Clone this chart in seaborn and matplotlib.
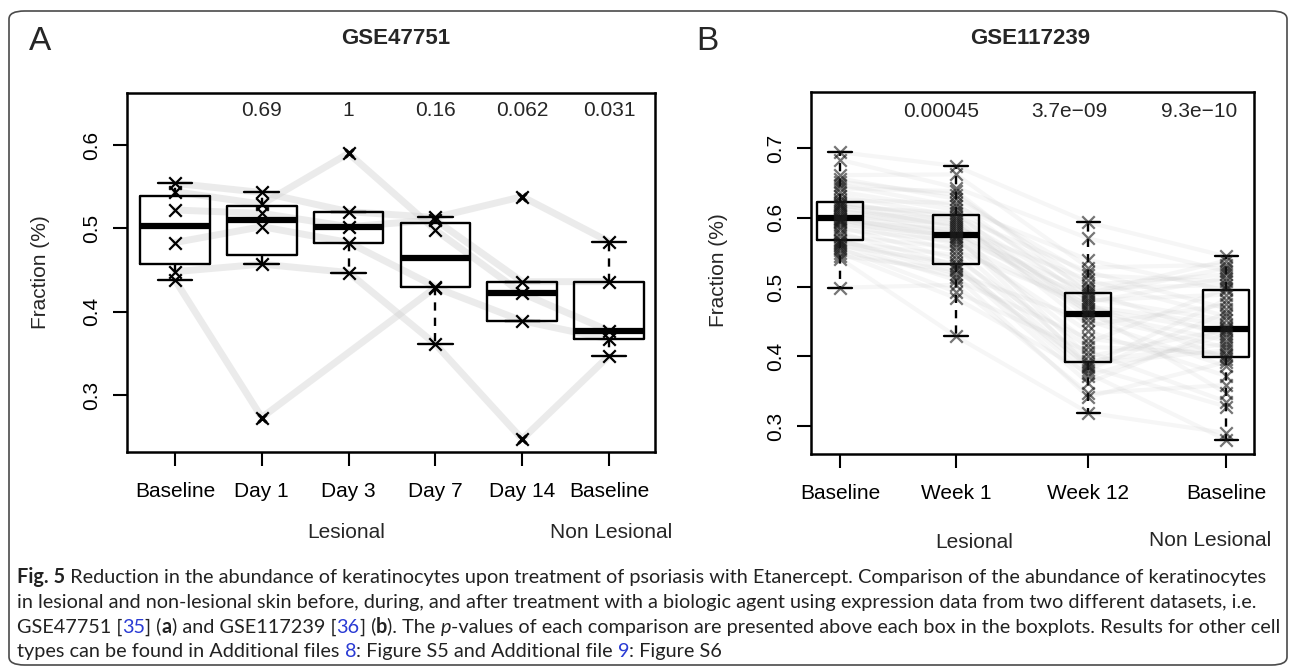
import numpy as np
import pandas as pd
import matplotlib
matplotlib.use("Agg")
from matplotlib import pyplot as plt
from matplotlib.patches import FancyBboxPatch
import seaborn as sns

sns.set_style("ticks")
plt.rcParams['font.family'] = ['Liberation Sans', 'DejaVu Sans']

W, H = 1295, 672

# ---- panel A: GSE47751, one entry per subject (nan = no sample)
groups_a = ['Baseline', 'Day 1', 'Day 3', 'Day 7', 'Day 14', 'Baseline']
tissue_a = ['Lesional'] * 5 + ['Non Lesional']
a_baseline = [0.438, 0.448, 0.544, 0.554, 0.522, 0.483]
a_day1 = [0.273, 0.457, 0.529, 0.543, 0.518, 0.502]
a_day3 = [np.nan, 0.447, 0.590, 0.520, 0.502, 0.483]
a_day7 = [0.429, 0.361, 0.498, 0.513, 0.510, 0.430]
a_day14 = [0.389, 0.247, 0.422, 0.538, 0.436, np.nan]
a_nonles = [0.367, 0.347, 0.377, 0.484, 0.436, np.nan]
pvals_a = ['', '0.69', '1', '0.16', '0.062', '0.031']

# ---- panel B: GSE117239, one entry per subject
groups_b = ['Baseline', 'Week 1', 'Week 12', 'Baseline']
b_base = [0.499, 0.541, 0.545, 0.549, 0.553, 0.556, 0.559, 0.562, 0.564, 0.566,
          0.568, 0.573, 0.578, 0.583, 0.587, 0.590, 0.593, 0.595, 0.597, 0.598,
          0.600, 0.602, 0.605, 0.608, 0.611, 0.614, 0.616, 0.618, 0.620, 0.622,
          0.625, 0.631, 0.637, 0.642, 0.647, 0.651, 0.656, 0.661, 0.683, 0.694]
b_week1 = [0.503, 0.429, 0.524, 0.484, 0.515, 0.493, 0.534, 0.510, 0.546, 0.528,
           0.519, 0.557, 0.531, 0.566, 0.540, 0.574, 0.552, 0.582, 0.562, 0.572,
           0.569, 0.591, 0.576, 0.597, 0.579, 0.588, 0.606, 0.585, 0.600, 0.594,
           0.621, 0.602, 0.611, 0.638, 0.616, 0.633, 0.627, 0.662, 0.643, 0.674]
b_week12 = [0.347, 0.319, 0.389, 0.376, 0.342, 0.407, 0.372, 0.426, 0.385, 0.362,
            0.452, 0.393, 0.381, 0.466, 0.414, 0.387, 0.475, 0.400, 0.436, 0.484,
            0.420, 0.458, 0.494, 0.445, 0.469, 0.478, 0.463, 0.510, 0.488, 0.472,
            0.481, 0.522, 0.498, 0.491, 0.539, 0.503, 0.517, 0.528, 0.570, 0.593]
b_nonles = [0.359, 0.290, 0.409, 0.280, 0.392, 0.335, 0.432, 0.400, 0.328, 0.441,
            0.386, 0.418, 0.463, 0.347, 0.404, 0.482, 0.397, 0.439, 0.372, 0.452,
            0.498, 0.413, 0.428, 0.475, 0.436, 0.513, 0.423, 0.458, 0.527, 0.446,
            0.489, 0.469, 0.503, 0.538, 0.495, 0.518, 0.508, 0.532, 0.523, 0.544]
pvals_b = ['0.00045', '3.7e\u221209', '9.3e\u221210']

# layout (x positions of the boxes in panel B are uneven in the original)
pos_b = [0.0, 1.0, 2.14, 3.33]
pval_x_b = [0.87, 1.98, 3.10]

fig = plt.figure(figsize=(W / 100, H / 100), dpi=100)


def px_axes(l, t, r, b):
    return fig.add_axes([l / W, 1 - b / H, (r - l) / W, (b - t) / H])


def fig_text(x, y, s, **kw):
    return fig.text(x / W, 1 - y / H, s, **kw)


box_kw = dict(fill=False, color='black', linewidth=1.7,
              whiskerprops={'linestyle': (0, (3.5, 3))},
              medianprops={'linewidth': 4.5},
              flierprops={'marker': 'x', 'markersize': 6, 'markeredgewidth': 2.2,
                          'markeredgecolor': 'black'})


def style_axes(ax):
    for s in ax.spines.values():
        s.set_visible(True)
        s.set_linewidth(1.8)
        s.set_color('black')
    ax.tick_params(direction='out', length=10, width=1.5, colors='black', labelsize=15)
    ax.tick_params(axis='x', pad=11.5)
    ax.tick_params(axis='y', pad=8.5)
    for lab in ax.get_yticklabels():
        lab.set_rotation(90)
        lab.set_va('center')
    ax.set_xlabel('')
    ax.set_ylabel('')


# ---------------- panel A
ax_a = px_axes(127, 93, 655, 452)
keys_a = [t + ' ' + g for t, g in zip(tissue_a, groups_a)]
df_a = pd.DataFrame(dict(zip(keys_a, [a_baseline, a_day1, a_day3, a_day7, a_day14, a_nonles])))
long_a = df_a.melt(var_name='group', value_name='fraction').dropna()

xs = np.arange(len(keys_a))
for _, row in df_a.iterrows():
    ok = row.notna().values
    ax_a.plot(xs[ok], row.values[ok], color='#d4d4d4', lw=5, alpha=0.45, zorder=1,
              solid_capstyle='round')

sns.boxplot(data=long_a, x='group', y='fraction', order=keys_a, width=0.8, ax=ax_a, **box_kw)
sns.stripplot(data=long_a, x='group', y='fraction', order=keys_a, jitter=False,
              marker='x', size=9, linewidth=1.6, color='black', edgecolor='black',
              ax=ax_a, zorder=3)

ax_a.set_xlim(-0.553, 5.53)
ax_a.set_ylim(0.2316, 0.6624)
ax_a.set_xticks(xs)
ax_a.set_xticklabels(groups_a)
ax_a.set_yticks([0.3, 0.4, 0.5, 0.6])
ax_a.set_yticklabels(['0.3', '0.4', '0.5', '0.6'])
style_axes(ax_a)
for i, p in enumerate(pvals_a):
    ax_a.text(i, 0.95, p, transform=ax_a.get_xaxis_transform(), ha='center', va='center',
              fontsize=15)

# ---------------- panel B
ax_b = px_axes(811, 92, 1254, 454)
cols_b = [b_base, b_week1, b_week12, b_nonles]
long_b = pd.DataFrame({'pos': np.repeat(pos_b, len(b_base)),
                       'fraction': np.concatenate(cols_b)})

for i in range(len(b_base)):
    ax_b.plot(pos_b, [c[i] for c in cols_b], color='#c8c8c8', lw=3, alpha=0.16, zorder=1)

sns.boxplot(data=long_b, x='pos', y='fraction', native_scale=True, orient='x', width=0.4,
            ax=ax_b, **box_kw)
sns.stripplot(data=long_b, x='pos', y='fraction', native_scale=True, orient='x', jitter=False,
              marker='x', size=9, linewidth=1.6, color='#1a1a1a', edgecolor='#1a1a1a',
              alpha=0.6, ax=ax_b, zorder=3)

ax_b.set_xlim(-0.25, 3.569)
ax_b.set_ylim(0.2597, 0.7806)
ax_b.set_xticks(pos_b)
ax_b.set_xticklabels(groups_b)
ax_b.set_yticks([0.3, 0.4, 0.5, 0.6, 0.7])
ax_b.set_yticklabels(['0.3', '0.4', '0.5', '0.6', '0.7'])
style_axes(ax_b)
for x, p in zip(pval_x_b, pvals_b):
    ax_b.text(x, 0.9475, p, transform=ax_b.get_xaxis_transform(), ha='center', va='center',
              fontsize=15)

# ---------------- panel titles / labels
fig_text(40, 42, 'A', fontsize=24, ha='center', va='center')
fig_text(396, 39, 'GSE47751', fontsize=16, fontweight='bold', ha='center', va='center')
fig_text(707, 42, 'B', fontsize=24, ha='center', va='center')
fig_text(1030, 39, 'GSE117239', fontsize=16, fontweight='bold', ha='center', va='center')

fig_text(40, 272, 'Fraction (%)', fontsize=15, rotation=90, ha='center', va='center')
fig_text(718, 270, 'Fraction (%)', fontsize=15, rotation=90, ha='center', va='center')

fig_text(346, 532, 'Lesional', fontsize=15, ha='center', va='center')
fig_text(611, 532, 'Non Lesional', fontsize=15, ha='center', va='center')
fig_text(974, 543, 'Lesional', fontsize=15, ha='center', va='center')
fig_text(1210, 540, 'Non Lesional', fontsize=15, ha='center', va='center')

# ---------------- caption with mixed styles
cap_font = ['Lato', 'DejaVu Sans']
link = '#2a3bd4'
caption = [
    [('Fig. 5', 'b'), (' Reduction in the abundance of keratinocytes upon treatment of psoriasis '
                       'with Etanercept. Comparison of the abundance of keratinocytes', '')],
    [('in lesional and non-lesional skin before, during, and after treatment with a biologic '
      'agent using expression data from two different datasets, i.e.', '')],
    [('GSE47751 [', ''), ('35', 'l'), ('] (', ''), ('a', 'b'), (') and GSE117239 [', ''),
     ('36', 'l'), ('] (', ''), ('b', 'b'), ('). The ', ''), ('p', 'i'),
     ('-values of each comparison are presented above each box in the boxplots. '
      'Results for other cell', '')],
    [('types can be found in Additional files ', ''), ('8', 'l'),
     (': Figure S5 and Additional file ', ''), ('9', 'l'), (': Figure S6', '')],
]
renderer = fig.canvas.get_renderer()


def run_kw(st, size):
    kw = dict(fontsize=size, family=cap_font, va='baseline', ha='left', color='#222222')
    if 'b' in st:
        kw['fontweight'] = 'bold'
    if 'i' in st:
        kw['fontstyle'] = 'italic'
    if 'l' in st:
        kw['color'] = link
    return kw


def advance(txt, st, size):
    # width including trailing spaces: measure with a bar appended
    t1 = fig.text(0, 0, txt + '|', **run_kw(st, size))
    t2 = fig.text(0, 0, '|', **run_kw(st, size))
    w = t1.get_window_extent(renderer).width - t2.get_window_extent(renderer).width
    t1.remove()
    t2.remove()
    return w


def draw_line(runs, x0, y0, size):
    x = x0
    for txt, st in runs:
        fig_text(x, y0, txt, **run_kw(st, size))
        x += advance(txt, st, size)
    return x


size0 = 12.0
w0 = sum(advance(t, s, size0) for t, s in caption[0])
cap_size = size0 * 1246.0 / w0
for k, runs in enumerate(caption):
    draw_line(runs, 17, 583 + 24.8 * k, cap_size)

# rounded frame round the whole figure
frame = FancyBboxPatch((9 / W, 1 - 665 / H), (1287 - 9) / W, (665 - 11) / H,
                       boxstyle='round,pad=0,rounding_size=0.012', transform=fig.transFigure,
                       fill=False, edgecolor='#4a4a4a', linewidth=1.2)
fig.patches.append(frame)

fig.savefig('out.png', dpi=100)
